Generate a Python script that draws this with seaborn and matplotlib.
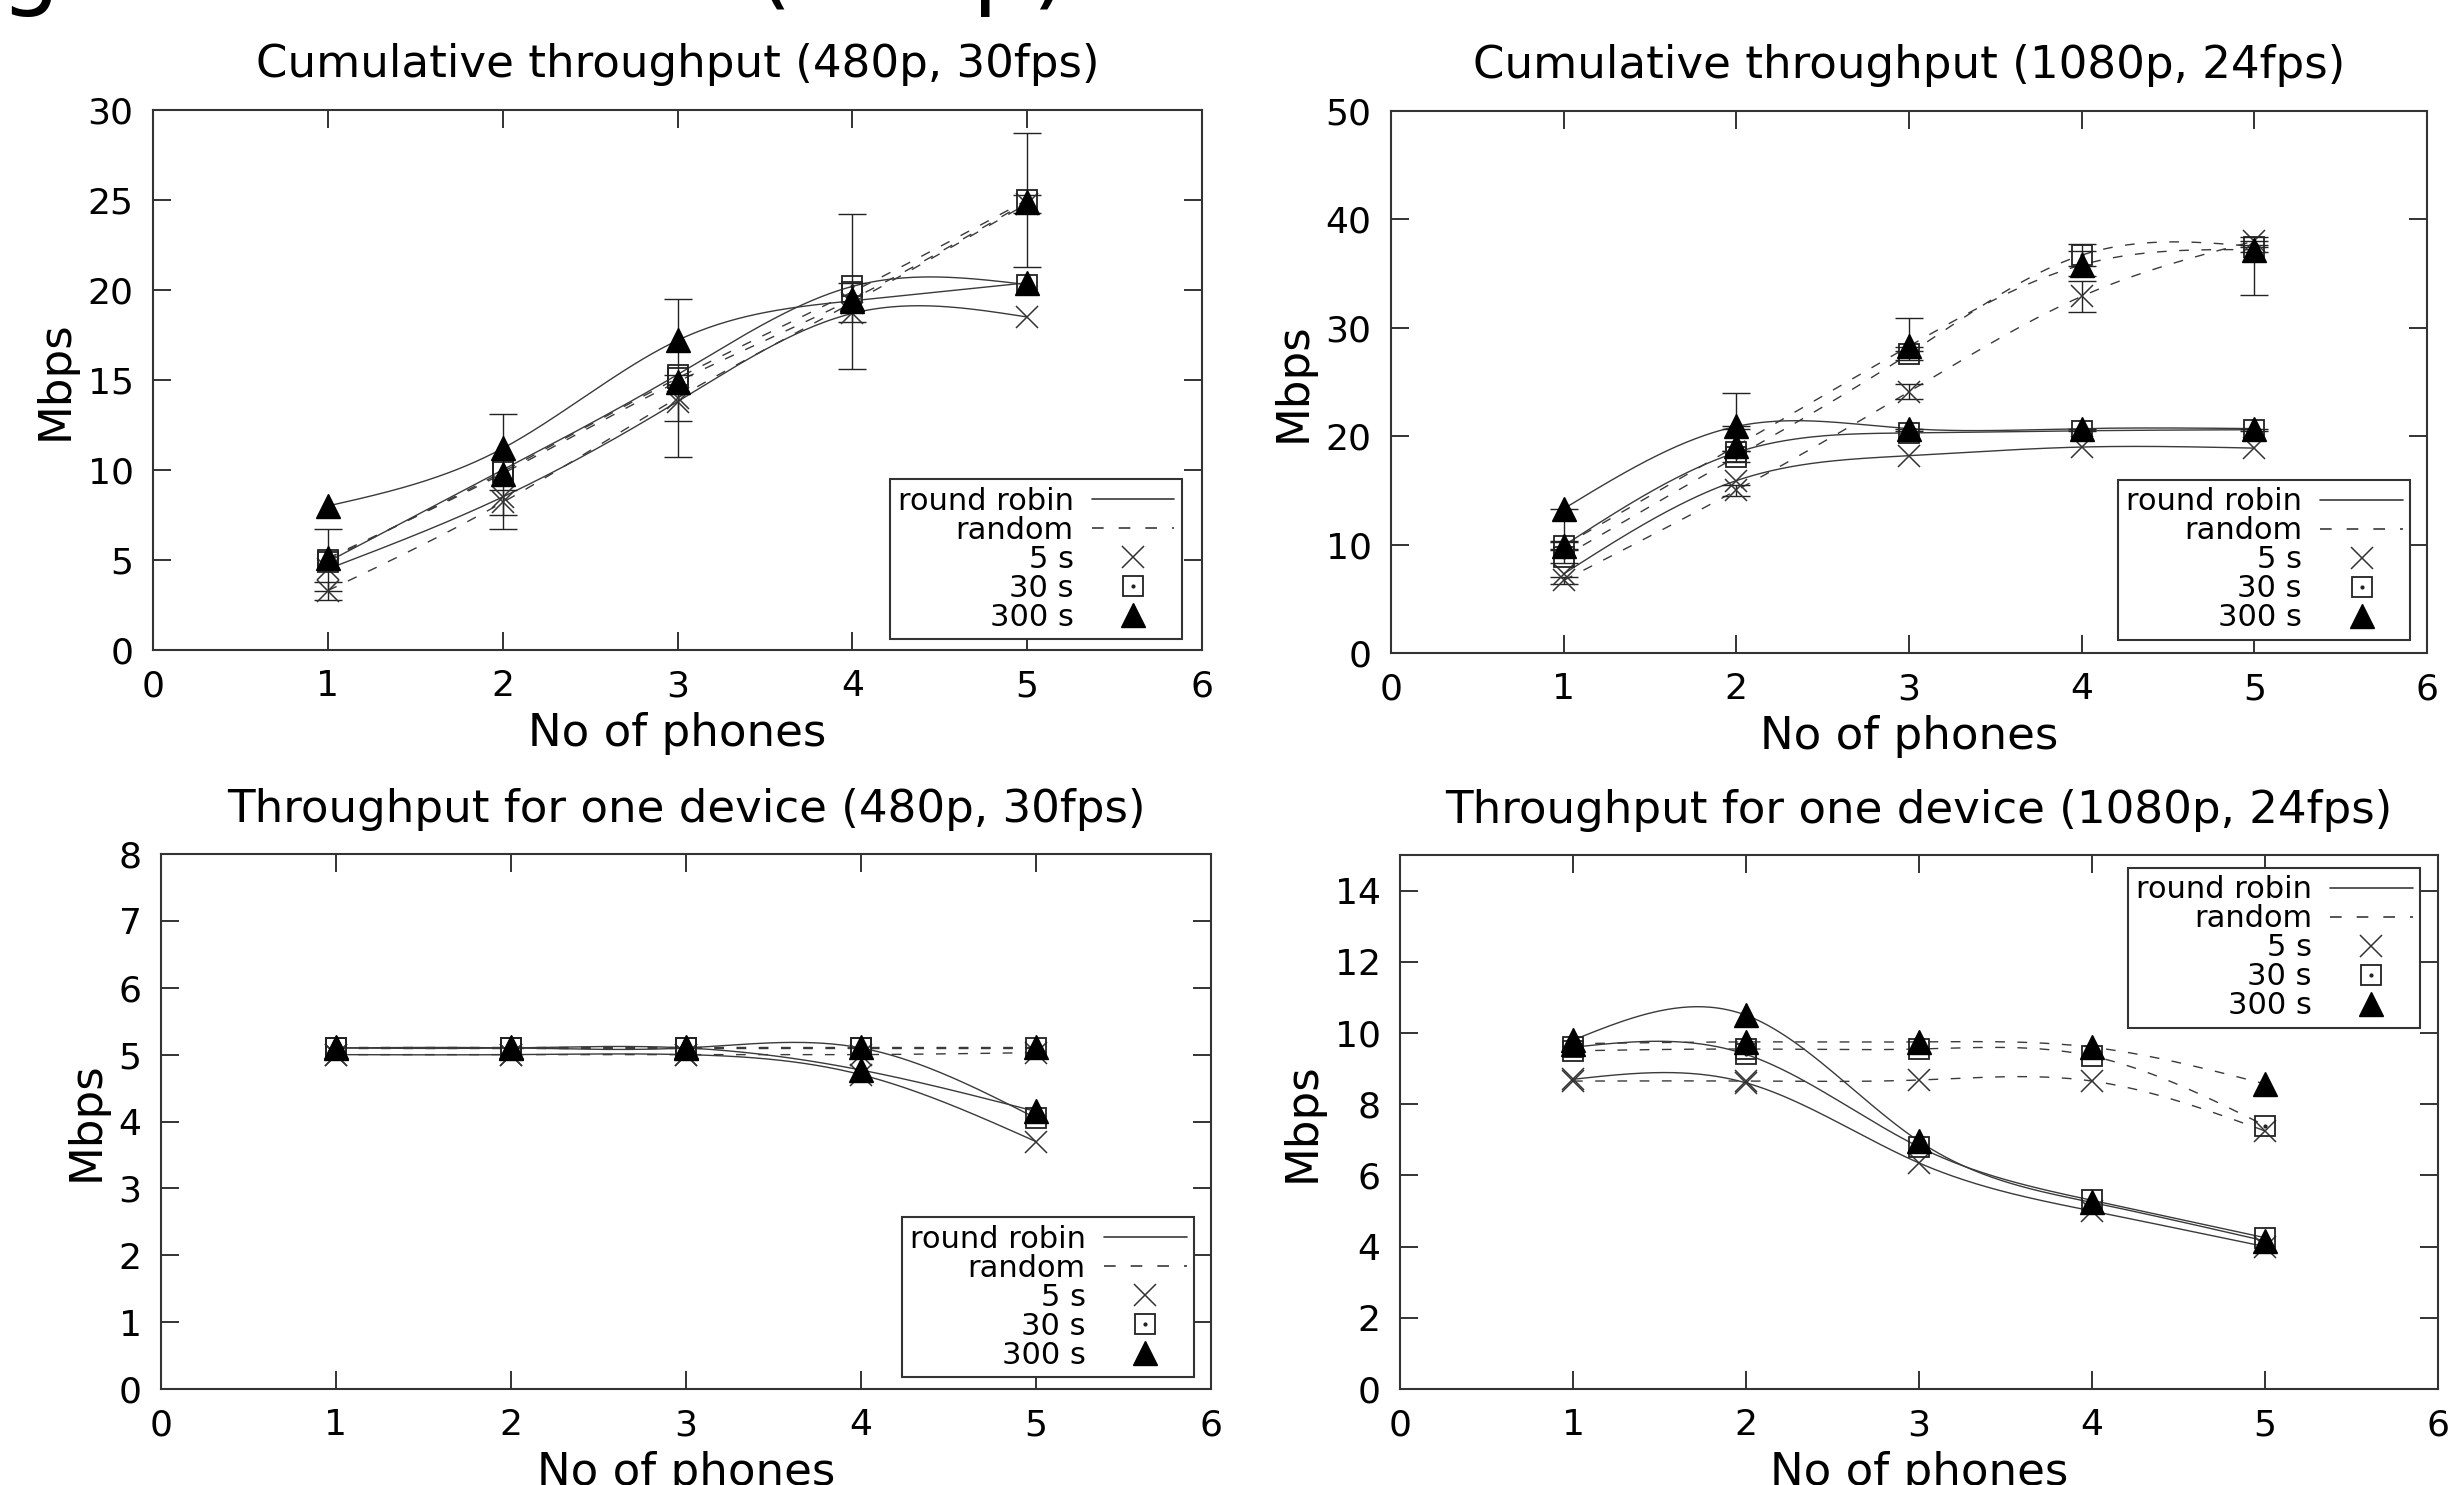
import numpy as np
import matplotlib
matplotlib.use("Agg")
import matplotlib.pyplot as plt
import seaborn as sns
import pandas as pd
from matplotlib.lines import Line2D
from matplotlib.legend_handler import HandlerTuple

# ---------------- data ----------------
phones = [1, 2, 3, 4, 5]

# Cumulative throughput (480p, 30fps)
tl_rr_5 = [4.5, 8.5, 13.8, 18.7, 18.5]
tl_rr_30 = [4.9, 10.0, 15.3, 20.2, 20.3]
tl_rr_300 = [8.0, 11.2, 17.2, 19.4, 20.4]
tl_rand_5 = [3.3, 8.2, 14.0, 19.3, 24.8]
tl_rand_30 = [5.0, 9.9, 15.1, 19.9, 25.0]
tl_rand_300 = [5.1, 9.8, 14.9, 19.5, 24.9]
tl_rand_30_err = [1.7, 3.2, 4.4, 4.3, 3.7]
tl_rand_5_err = [0.5, 0.7, 1.3, 1.1, 0.5]

# Cumulative throughput (1080p, 24fps)
tr_rr_5 = [7.3, 15.9, 18.2, 19.0, 18.9]
tr_rr_30 = [9.9, 18.5, 20.3, 20.5, 20.6]
tr_rr_300 = [13.3, 20.9, 20.7, 20.7, 20.7]
tr_rand_5 = [6.7, 15.0, 24.1, 32.9, 38.0]
tr_rand_30 = [8.9, 18.1, 27.6, 36.7, 37.5]
tr_rand_300 = [9.9, 19.1, 28.3, 35.8, 37.2]
tr_rand_300_err_lo = [0.3, 0.5, 0.4, 1.0, 4.2]
tr_rand_300_err_hi = [0.3, 4.9, 2.6, 1.3, 0.3]
tr_rand_5_err = [0.3, 0.5, 0.7, 1.4, 0.4]
tr_rand_30_err = [0.6, 0.5, 0.6, 1.0, 0.5]
tr_rr_300_err_lo = [3.0, 0.2, 0.2, 0.2, 0.2]

# Throughput for one device (480p, 30fps)
bl_rr_5 = [5.0, 5.0, 5.0, 4.7, 3.7]
bl_rr_30 = [5.1, 5.1, 5.1, 5.1, 4.05]
bl_rr_300 = [5.1, 5.1, 5.1, 4.77, 4.15]
bl_rand_5 = [5.0, 5.0, 5.0, 5.0, 5.03]
bl_rand_30 = [5.1, 5.1, 5.1, 5.1, 5.1]
bl_rand_300 = [5.12, 5.12, 5.12, 5.12, 5.12]

# Throughput for one device (1080p, 24fps)
br_rr_5 = [8.7, 8.6, 6.35, 5.0, 4.0]
br_rr_30 = [9.6, 9.4, 6.8, 5.3, 4.25]
br_rr_300 = [9.8, 10.5, 6.96, 5.24, 4.16]
br_rand_5 = [8.65, 8.65, 8.68, 8.65, 7.25]
br_rand_30 = [9.5, 9.55, 9.55, 9.35, 7.4]
br_rand_300 = [9.7, 9.75, 9.75, 9.6, 8.57]

titles = ["Cumulative throughput (480p, 30fps)",
          "Cumulative throughput (1080p, 24fps)",
          "Throughput for one device (480p, 30fps)",
          "Throughput for one device (1080p, 24fps)"]
legend_labels = ["round robin", "random", "5 s", "30 s", "300 s"]

# ---------------- style ----------------
sns.set_theme(style="white")
plt.rcParams["font.family"] = ["DejaVu Sans"]
plt.rcParams.update({"text.color": "black", "axes.labelcolor": "black",
                     "xtick.color": "black", "ytick.color": "black"})
LC = "#3a3a3a"
TICK_FS = 26
LAB_FS = 32.5
LEG_FS = 22


def csplines(x, y, n=300):
    x = np.asarray(x, float)
    y = np.asarray(y, float)
    k = len(x)
    h = np.diff(x)
    A = np.zeros((k, k))
    b = np.zeros(k)
    A[0, 0] = 1
    A[-1, -1] = 1
    for i in range(1, k - 1):
        A[i, i - 1] = h[i - 1]
        A[i, i] = 2 * (h[i - 1] + h[i])
        A[i, i + 1] = h[i]
        b[i] = 6 * ((y[i + 1] - y[i]) / h[i] - (y[i] - y[i - 1]) / h[i - 1])
    M = np.linalg.solve(A, b)
    xs = np.linspace(x[0], x[-1], n)
    ys = np.empty_like(xs)
    for j, xv in enumerate(xs):
        i = min(np.searchsorted(x, xv, side="right") - 1, k - 2)
        t1 = x[i + 1] - xv
        t0 = xv - x[i]
        ys[j] = (M[i] * t1 ** 3 / (6 * h[i]) + M[i + 1] * t0 ** 3 / (6 * h[i])
                 + (y[i] / h[i] - M[i] * h[i] / 6) * t1
                 + (y[i + 1] / h[i] - M[i + 1] * h[i] / 6) * t0)
    return xs, ys


def draw_markers(ax, vals, kind):
    if kind == "5 s":
        ax.plot(phones, vals, ls="none", marker="x", ms=16, mec="#333333",
                mew=1.1, zorder=5)
    elif kind == "30 s":
        ax.plot(phones, vals, ls="none", marker="s", ms=15, mfc="none",
                mec="#222222", mew=1.3, zorder=5)
        ax.plot(phones, vals, ls="none", marker=".", ms=4, color="#222222",
                zorder=5)
    else:
        ax.plot(phones, vals, ls="none", marker="^", ms=17.5, color="black",
                mec="black", zorder=6)


def panel(ax, rr, rand, errs, title, ylim, yticks, loc, anchor, pad):
    kinds = ["5 s", "30 s", "300 s"]
    for vals, ls in [(v, "-") for v in rr] + [(v, (0, (7, 9))) for v in rand]:
        xs, ys = csplines(phones, vals)
        df = pd.DataFrame({"x": xs, "y": ys})
        sns.lineplot(data=df, x="x", y="y", ax=ax, color=LC, lw=1.0,
                     linestyle=ls, sort=False, estimator=None, zorder=3)
    for vals, lo, hi in errs:
        ax.errorbar(phones, vals, yerr=[lo, hi], fmt="none", ecolor="#222222",
                    elinewidth=1.0, capsize=10, capthick=1.0, zorder=4)
    for vals, kind in zip(rr, kinds):
        draw_markers(ax, vals, kind)
    for vals, kind in zip(rand, kinds):
        draw_markers(ax, vals, kind)

    ax.set_xlim(0, 6)
    ax.set_ylim(*ylim)
    ax.set_xticks(range(0, 7))
    ax.set_yticks(yticks)
    ax.tick_params(direction="in", length=13, width=1.4, color="#333333",
                   labelsize=TICK_FS, pad=14, top=True, right=True,
                   bottom=True, left=True, labelcolor="black")
    for s in ax.spines.values():
        s.set_color("#333333")
        s.set_linewidth(1.5)
    ax.set_title(title, fontsize=LAB_FS, pad=pad, color="black")
    ax.set_xlabel("No of phones", fontsize=LAB_FS, labelpad=6, color="black")
    ax.set_ylabel("Mbps", fontsize=LAB_FS, labelpad=8, color="black")

    h_rr = Line2D([], [], color=LC, lw=1.2, ls="-")
    h_rand = Line2D([], [], color=LC, lw=1.2, ls=(0, (7, 9)))
    h5 = Line2D([], [], ls="none", marker="x", ms=16, mec="#333333", mew=1.1)
    h30a = Line2D([], [], ls="none", marker="s", ms=15, mfc="none",
                  mec="#222222", mew=1.3)
    h30b = Line2D([], [], ls="none", marker=".", ms=4, color="#222222")
    h300 = Line2D([], [], ls="none", marker="^", ms=17.5, color="black")
    leg = ax.legend([h_rr, h_rand, h5, (h30a, h30b), h300], legend_labels,
                    loc=loc, bbox_to_anchor=anchor, borderaxespad=0,
                    fontsize=LEG_FS, markerfirst=False, handlelength=2.7,
                    handletextpad=0.6, labelspacing=0.0, borderpad=0.25,
                    fancybox=False, framealpha=1, edgecolor="#333333",
                    handler_map={tuple: HandlerTuple(ndivide=1)})
    leg.get_frame().set_linewidth(1.5)
    for t in leg.get_texts():
        t.set_color("black")


fig = plt.figure(figsize=(24.48, 14.85), dpi=100)
W, H = 2448.0, 1485.0


def add_ax(l, r, t, b):
    return fig.add_axes([l / W, 1 - b / H, (r - l) / W, (b - t) / H])


ax_tl = add_ax(153, 1202, 110, 650)
ax_tr = add_ax(1391, 2427, 111, 653)
ax_bl = add_ax(161, 1211, 854, 1389)
ax_br = add_ax(1400, 2438, 855, 1389)

z = [0, 0, 0, 0, 0]
panel(ax_tl, [tl_rr_5, tl_rr_30, tl_rr_300], [tl_rand_5, tl_rand_30, tl_rand_300],
      [(tl_rand_30, tl_rand_30_err, tl_rand_30_err),
       (tl_rand_5, tl_rand_5_err, tl_rand_5_err)],
      titles[0], (0, 30), range(0, 31, 5), "lower right", (0.981, 0.02), 24)
panel(ax_tr, [tr_rr_5, tr_rr_30, tr_rr_300], [tr_rand_5, tr_rand_30, tr_rand_300],
      [(tr_rand_300, tr_rand_300_err_lo, tr_rand_300_err_hi),
       (tr_rand_5, tr_rand_5_err, tr_rand_5_err),
       (tr_rand_30, tr_rand_30_err, tr_rand_30_err),
       (tr_rr_300, tr_rr_300_err_lo, z)],
      titles[1], (0, 50), range(0, 51, 10), "lower right", (0.984, 0.024), 24)
panel(ax_bl, [bl_rr_5, bl_rr_30, bl_rr_300], [bl_rand_5, bl_rand_30, bl_rand_300],
      [], titles[2], (0, 8), range(0, 9), "lower right", (0.984, 0.022), 23)
panel(ax_br, [br_rr_5, br_rr_30, br_rr_300], [br_rand_5, br_rand_30, br_rand_300],
      [], titles[3], (0, 15), range(0, 15, 2), "upper right", (0.983, 0.976), 23)

# clipped heading above the panels
fig.text(-0.1887, 1.002, "Scheduling vs chunk size (480p)", fontsize=68,
         ha="left", va="baseline", color="black")

fig.savefig("out.png", dpi=100)
